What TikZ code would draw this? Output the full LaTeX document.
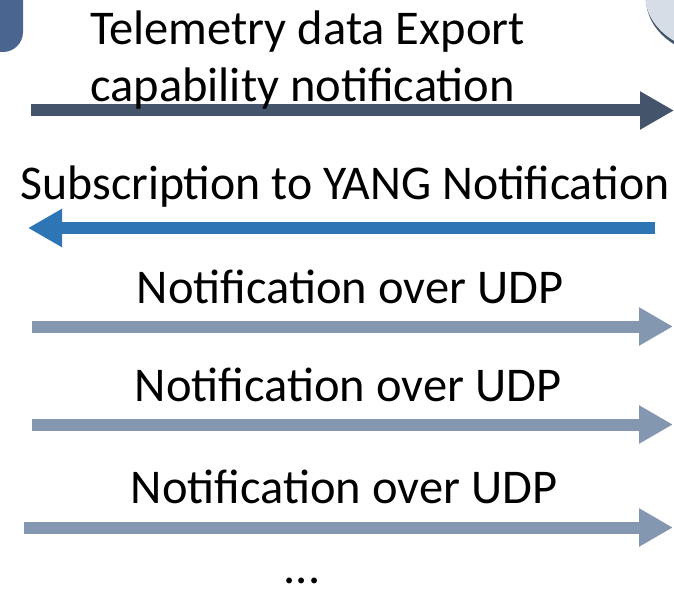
\documentclass[tikz,border=0pt]{standalone}
\usepackage{fontspec}
\setmainfont{Carlito}
\usetikzlibrary{arrows.meta,positioning}
\definecolor{Slate}{HTML}{44546A}
\definecolor{Host}{HTML}{4A6690}
\definecolor{Cloud}{HTML}{D6DDE6}
\definecolor{Req}{HTML}{2E75B6}
\definecolor{Udp}{HTML}{8497B0}
\tikzset{
  msg/.style={line width=12pt,-{Triangle[length=34pt,width=36pt]}},
  lab/.style={font=\fontsize{48.5}{57}\selectfont,inner sep=0pt,anchor=base}
}
\begin{document}
\begin{tikzpicture}[x=1pt,y=-1pt]
  \useasboundingbox (0,0) rectangle (674,596);
  % the two end points, cut by the page edge
  \fill[Host,rounded corners=20pt] (-40,-20) rectangle (23,52);
  \fill[Slate] (721,-1) ellipse [x radius=75,y radius=58];
  \fill[Cloud] (720,-5) ellipse [x radius=75,y radius=58];
  % messages
  \coordinate (capL) at (31,110.5);  \coordinate (capR) at (674,110.5);
  \coordinate (subR) at (655,228);   \coordinate (subL) at (28,228);
  \coordinate (n1L) at (32,326.5);   \coordinate (n1R) at (673,326.5);
  \coordinate (n2L) at (32,424.5);   \coordinate (n2R) at (673,424.5);
  \coordinate (n3L) at (24,527.5);   \coordinate (n3R) at (673,527.5);
  \draw[msg,Slate] (capL) -- (capR);
  \draw[msg,Req] (subR) -- (subL);
  \draw[msg,Udp] (n1L) -- (n1R);
  \draw[msg,Udp] (n2L) -- (n2R);
  \draw[msg,Udp] (n3L) -- (n3R);
  % labels
  \node[lab,anchor=base west] (cap1) at (90,45) {Telemetry data Export};
  \node[lab,anchor=base west] (cap2) at (90,102) {capability notification};
  \node[lab,xscale=0.985] (sub) at (345,200) {Subscription to YANG Notification};
  \node[lab] (udp1) at (350,303) {Notification over UDP};
  \node[lab] (udp2) at (348,401) {Notification over UDP};
  \node[lab] (udp3) at (344,503) {Notification over UDP};
  \node[lab] (more) at (302,583) {...};
\end{tikzpicture}
\end{document}
